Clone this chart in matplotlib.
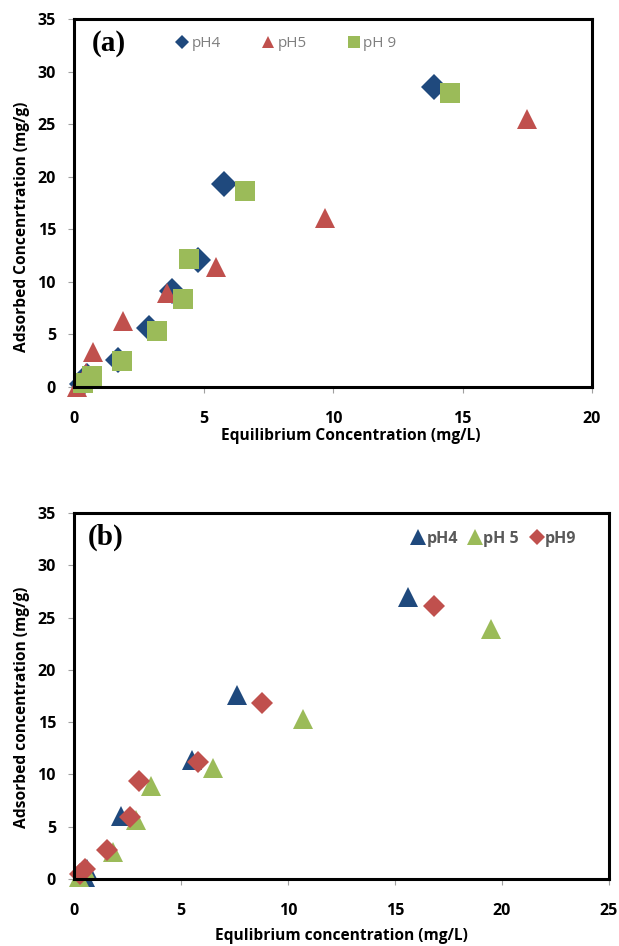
import numpy as np
import matplotlib.pyplot as plt

# panel (a) data
a_ph4_x = [13.9, 5.8, 4.8, 3.8, 2.9, 1.7, 0.5, 0.3]
a_ph4_y = [28.5, 19.3, 12.1, 9.1, 5.6, 2.6, 1.0, 0.3]
a_ph5_x = [17.5, 9.7, 5.5, 3.6, 1.9, 0.75, 0.45, 0.1]
a_ph5_y = [25.5, 16.1, 11.4, 8.9, 6.3, 3.3, 1.3, 0.0]
a_ph9_x = [14.5, 6.6, 4.45, 4.2, 3.2, 1.85, 0.7, 0.35]
a_ph9_y = [28.0, 18.6, 12.2, 8.4, 5.3, 2.5, 1.0, 0.4]

# panel (b) data
b_ph4_x = [15.6, 7.6, 5.5, 2.2, 0.6, 0.5]
b_ph4_y = [27.0, 17.6, 11.4, 6.0, 1.0, 0.2]
b_ph5_x = [19.5, 10.7, 6.5, 3.6, 2.9, 1.8, 0.5, 0.25]
b_ph5_y = [23.9, 15.3, 10.6, 8.9, 5.6, 2.6, 1.0, 0.2]
b_ph9_x = [16.8, 8.8, 5.8, 3.05, 2.6, 1.55, 0.5, 0.3]
b_ph9_y = [26.1, 16.8, 11.2, 9.4, 5.9, 2.8, 1.0, 0.5]

blue = '#1F497D'
red = '#C0504D'
green = '#9BBB59'

fig = plt.figure(figsize=(6.19, 9.46), dpi=100)
ax1 = fig.add_axes([74/619, 1-387/946, 518/619, 368/946])
ax2 = fig.add_axes([74/619, 1-879/946, 535/619, 366/946])


def style(ax, xmax, xlab, ylab):
    ax.set_xlim(0, xmax)
    ax.set_ylim(0, 35)
    ax.set_xticks(np.arange(0, xmax + 1, 5))
    ax.set_yticks(np.arange(0, 36, 5))
    for s in ax.spines.values():
        s.set_linewidth(2.2)
        s.set_color('black')
    ax.tick_params(direction='out', length=4, width=0.8, color='#a0a0a0', labelsize=11.5)
    ax.tick_params(axis='x', pad=13)
    ax.tick_params(axis='y', pad=9)
    for t in ax.get_xticklabels() + ax.get_yticklabels():
        t.set_fontweight('bold')
        t.set_fontfamily('Open Sans')
    ax.set_xlabel(xlab, fontsize=11.2, fontweight='bold', family='Open Sans')
    ax.set_ylabel(ylab, fontsize=11.2, fontweight='bold', family='Open Sans')


# (a)
ax1.plot(a_ph4_x, a_ph4_y, 'D', color=blue, ms=13, mew=0, label='pH4', clip_on=False)
ax1.plot(a_ph5_x, a_ph5_y, '^', color=red, ms=15, mew=0, label='pH5', clip_on=False)
ax1.plot(a_ph9_x, a_ph9_y, 's', color=green, ms=15, mew=0, label='pH 9', clip_on=False)
style(ax1, 20, 'Equilibrium Concentration (mg/L)', 'Adsorbed Concenrtration (mg/g)')
ax1.xaxis.set_label_coords(0.535, -0.112)
ax1.yaxis.set_label_coords(-0.085, 0.435)
ax1.text(0.035, 0.97, '(a)', transform=ax1.transAxes, ha='left', va='top',
         fontsize=21, fontweight='bold', family='Liberation Serif')
leg = ax1.legend(loc='upper left', bbox_to_anchor=(0.165, 0.99), ncol=3, frameon=False,
                 markerscale=0.55, handletextpad=0.0, handlelength=1.2, columnspacing=2.5,
                 prop={'family': 'Open Sans', 'size': 11})
for t in leg.get_texts():
    t.set_color('#7f7f7f')

# (b)
ax2.plot(b_ph4_x, b_ph4_y, '^', color=blue, ms=15, mew=0, label='pH4', clip_on=False)
ax2.plot(b_ph5_x, b_ph5_y, '^', color=green, ms=15, mew=0, label='pH 5', clip_on=False)
ax2.plot(b_ph9_x, b_ph9_y, 'D', color=red, ms=11, mew=0, label='pH9', clip_on=False)
style(ax2, 25, 'Equlibrium concentration (mg/L)', 'Adsorbed concentration (mg/g)')
ax2.xaxis.set_label_coords(0.5, -0.135)
ax2.yaxis.set_label_coords(-0.082, 0.47)
ax2.text(0.025, 0.97, '(b)', transform=ax2.transAxes, ha='left', va='top',
         fontsize=21, fontweight='bold', family='Liberation Serif')
leg = ax2.legend(loc='upper right', bbox_to_anchor=(0.965, 0.99), ncol=3, frameon=False,
                 markerscale=0.75, handletextpad=-0.1, handlelength=1.2, columnspacing=0.5,
                 prop={'family': 'Open Sans', 'size': 11.5, 'weight': 'bold'})
for t in leg.get_texts():
    t.set_color('#595959')

plt.savefig('out.png', dpi=100)
